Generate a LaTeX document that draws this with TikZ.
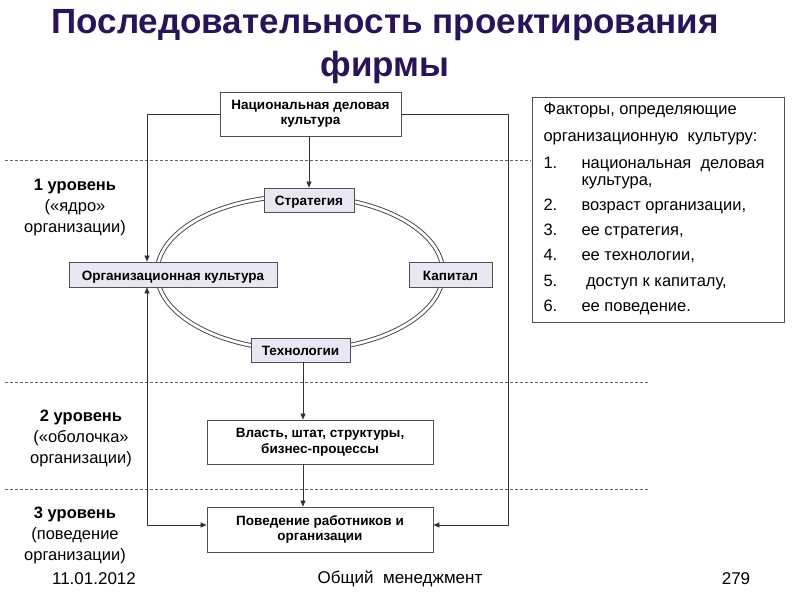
\documentclass[tikz,border=0pt]{standalone}
\usepackage{fontspec}
\setmainfont{Liberation Sans}
\usetikzlibrary{arrows.meta}
\definecolor{titlec}{HTML}{2A1458}
\definecolor{lav}{HTML}{E8E8F4}
\definecolor{bord}{HTML}{505050}
\tikzset{
  wbox/.style={draw=bord, fill=white, line width=0.8pt, inner sep=0pt, font=\fontsize{13.5}{15.5}\selectfont\bfseries},
  lbox/.style={wbox, fill=lav, text height=11.5pt, text depth=0pt},
  conn/.style={draw=black!80, line width=0.7pt},
  arr/.style={conn, -{Triangle[length=6pt,width=5pt]}},
  dashln/.style={draw=black!60, line width=0.6pt, dash pattern=on 3pt off 2pt},
  lvl/.style={font=\fontsize{16.5}{21}\selectfont, align=center},
  lst/.style={anchor=base west, font=\fontsize{16.5}{18}\selectfont},
  foot/.style={font=\fontsize{17}{19}\selectfont},
}
\begin{document}
\begin{tikzpicture}[x=1pt,y=-1pt]
\useasboundingbox[fill=white] (0,0) rectangle (800,600);
% title
\node[text=titlec, font=\fontsize{35}{43}\selectfont\bfseries, align=center] (title) at (385,47) {Последовательность проектирования\\фирмы};
% dashed level lines
\draw[dashln] (5,160) -- (531,160);
\draw[dashln] (5,382) -- (650,382);
\draw[dashln] (5,489) -- (650,489);
% ellipse
\draw[draw=black!75, line width=0.9pt, double=white, double distance=2.8pt] (300,273) ellipse [x radius=143, y radius=77];
% boxes
\node[wbox, align=center, minimum width=181pt, minimum height=44pt] (nat) at (310.5,114) {Национальная деловая\\культура};
\node[lbox, minimum width=90pt, minimum height=24pt] (str) at (309,200) {Стратегия};
\node[lbox, minimum width=208pt, minimum height=25pt] (org) at (173,274.5) {Организационная культура};
\node[lbox, minimum width=83pt, minimum height=25pt] (cap) at (450.5,274.5) {Капитал};
\node[lbox, minimum width=99pt, minimum height=24pt] (tech) at (300.5,350) {Технологии};
\node[wbox, align=center, minimum width=226pt, minimum height=44pt] (pow) at (320,442) {Власть, штат, структуры,\\бизнес-процессы};
\node[wbox, align=center, minimum width=226pt, minimum height=45pt] (beh) at (320,529.5) {Поведение работников и\\организации};
% connectors
\coordinate (nl) at (147,114);
\coordinate (nr) at (508,114);
\coordinate (bl) at (147,525);
\coordinate (br) at (508,525);
\draw[arr] (nat.south -| str.north) -- (str.north);
\draw[arr] (nat.west) -- (nl) -- (nl |- org.north);
\draw[arr] (nat.east) -- (nr) -- (br) -- (br -| beh.east);
\draw[arr] (tech.south -| 303,0) -- (303,0 |- pow.north);
\draw[arr] (pow.south -| 303,0) -- (303,0 |- beh.north);
\draw[conn, {Triangle[length=6pt,width=5pt]}-{Triangle[length=6pt,width=5pt]}] (bl |- org.south) -- (bl) -- (bl -| beh.west);
% factors box
\node[draw=bord, line width=0.8pt, minimum width=252pt, minimum height=225pt, inner sep=0pt] (fac) at (658,209.5) {};
\node[lst] (f0) at (540,114) {Факторы, определяющие};
\node[lst] (f1) at (540,141) {организационную\ \ культуру:};
\node[lst] (n1) at (540,168) {1.};
\node[lst] (t1) at (578,168) {национальная\ \ деловая};
\node[lst] (t1b) at (578,185) {культура,};
\node[lst] (n2) at (540,210) {2.};
\node[lst] (t2) at (578,210) {возраст организации,};
\node[lst] (n3) at (540,235) {3.};
\node[lst] (t3) at (578,235) {ее стратегия,};
\node[lst] (n4) at (540,260) {4.};
\node[lst] (t4) at (578,260) {ее технологии,};
\node[lst] (n5) at (540,286) {5.};
\node[lst] (t5) at (578,286) {\ доступ к капиталу,};
\node[lst] (n6) at (540,311) {6.};
\node[lst] (t6) at (578,311) {ее поведение.};
% level labels
\node[lvl] (l1) at (75,208) {\textbf{1 уровень}\\(«ядро»\\организации)};
\node[lvl] (l2) at (81,438) {\textbf{2 уровень}\\(«оболочка»\\организации)};
\node[lvl] (l3) at (75,535) {\textbf{3 уровень}\\(поведение\\организации)};
% footer
\node[foot] (d) at (94,578.5) {11.01.2012};
\node[foot] (m) at (400,578.5) {Общий\ \ менеджмент};
\node[foot] (p) at (736,578.5) {279};
\end{tikzpicture}
\end{document}
